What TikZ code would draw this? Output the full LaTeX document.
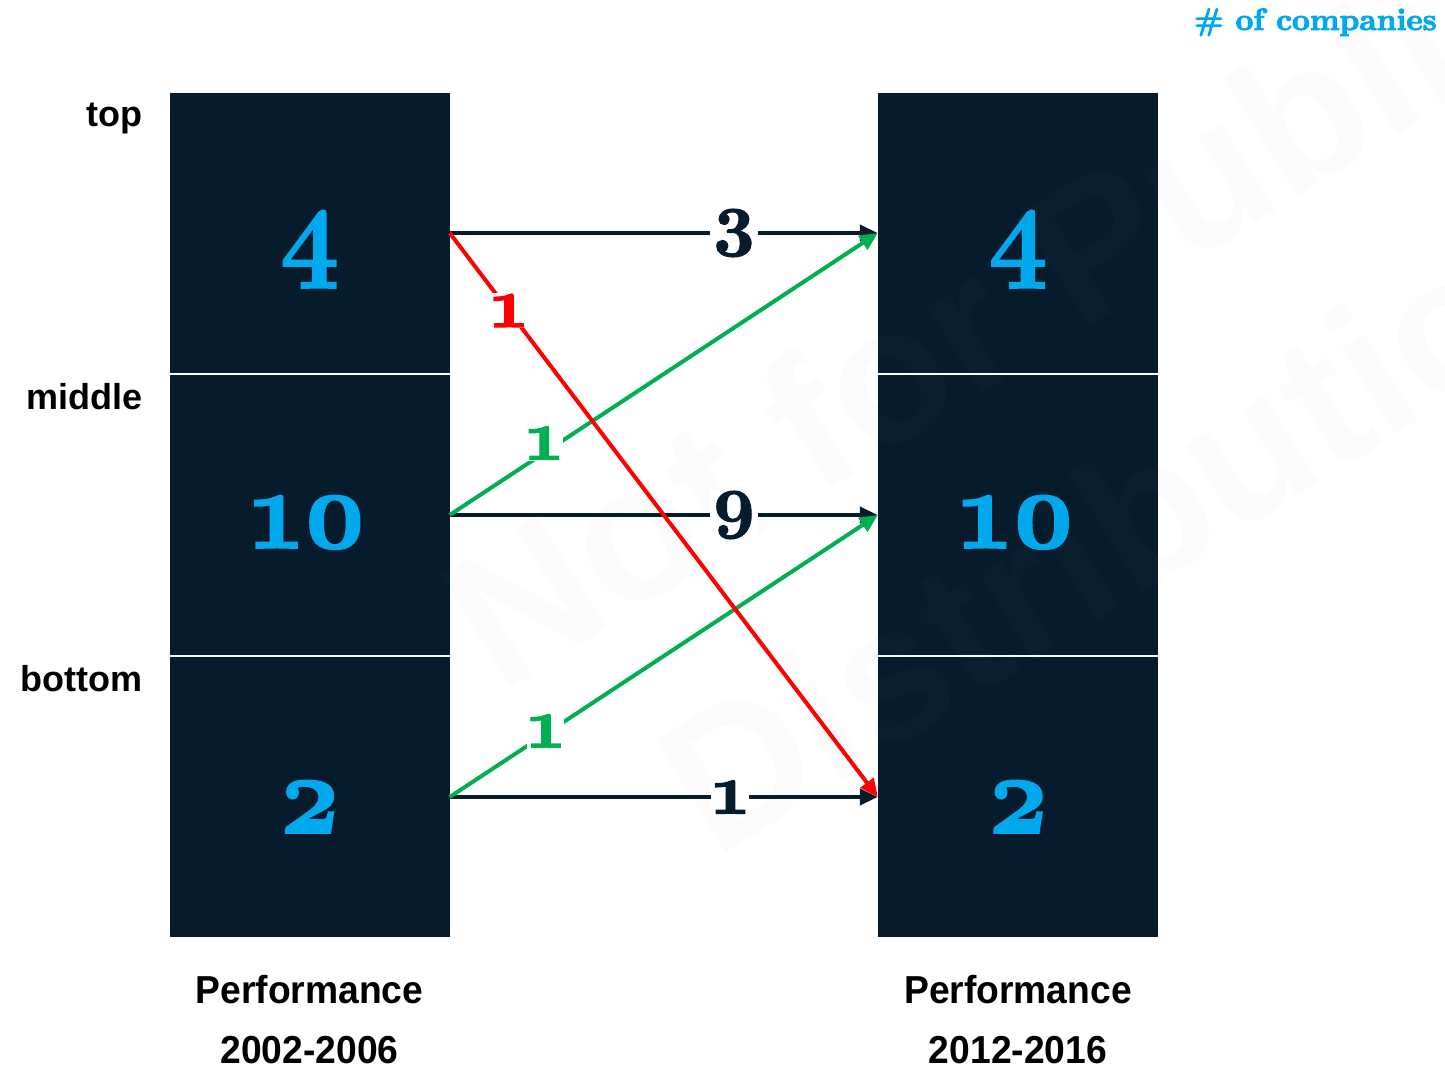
\documentclass[tikz,border=0pt]{standalone}
\usepackage{fontspec}
\setmainfont{Liberation Sans}
\newfontfamily\numfont{lmroman10-bold.otf}[Numbers=OldStyle, FakeBold=1.6]
\newfontfamily\titlefont{lmroman10-bold.otf}[Numbers=OldStyle, FakeBold=3]
\usetikzlibrary{arrows.meta}
\definecolor{navy}{HTML}{061C2D}
\definecolor{cyanblue}{HTML}{00A8EE}
\definecolor{greenline}{HTML}{00B050}
\definecolor{redline}{HTML}{FF0000}
\begin{document}
\begin{tikzpicture}[x=1pt,y=-1pt,
  cell/.style={fill=navy, draw=none, minimum width=280pt, minimum height=280pt, inner sep=0pt},
  bignum/.style={font=\numfont\fontsize{114}{114}\selectfont, text=cyanblue, anchor=base, inner sep=0pt, xscale=0.9},
  rowlab/.style={font=\bfseries\fontsize{36}{36}\selectfont, anchor=base east, inner sep=0pt},
  foot/.style={font=\bfseries\fontsize{39}{39}\selectfont, anchor=base, inner sep=0pt, xscale=0.955},
  conn/.style={line width=4pt, -{Triangle[length=18pt,width=16pt]}},
  lab/.style={font=\numfont\fontsize{72}{72}\selectfont, fill=white, inner sep=1pt},
  wm/.style={font=\bfseries\fontsize{192}{192}\selectfont, text=gray, text opacity=0.03, anchor=base west, rotate=32, inner sep=0pt}
]
\useasboundingbox (0,0) rectangle (1445,1068);
\fill[white] (0,0) rectangle (1445,1068);

% boxes
\node[cell] (L1) at (309.5,233) {};
\node[cell] (L2) at (309.5,515) {};
\node[cell] (L3) at (309.5,797) {};
\node[cell] (R1) at (1018,233) {};
\node[cell] (R2) at (1018,515) {};
\node[cell] (R3) at (1018,797) {};

% numbers in boxes
\node[bignum] (nL1) at (309.5,266) {4};
\node[bignum] (nL2) at (309.5,548) {10};
\node[bignum] (nL3) at (309.5,833) {2};
\node[bignum] (nR1) at (1018,266) {4};
\node[bignum] (nR2) at (1018,548) {10};
\node[bignum] (nR3) at (1018,833) {2};

% watermark
\node[wm] (wm1) at (500,695) {Not for Public};
\node[wm] (wm2) at (715,860) {Distribution};

% row labels
\node[rowlab] (top) at (143,126) {top};
\node[rowlab] (mid) at (143,409) {middle};
\node[rowlab] (bot) at (143,691) {bottom};

% footers
\node[foot] (fL1) at (309.5,1003) {Performance};
\node[foot] (fL2) at (309.5,1063) {2002-2006};
\node[foot] (fR1) at (1018,1003) {Performance};
\node[foot] (fR2) at (1018,1063) {2012-2016};

% title
\node[font=\titlefont\fontsize{31}{31}\selectfont, text=cyanblue, anchor=base east, inner sep=0pt] (title) at (1437,30) {\# of companies};

% connectors
\draw[conn, navy] (L1.east) -- node[lab, pos=0.664, text=navy] {3} (R1.west);
\draw[conn, navy] (L2.east) -- node[lab, pos=0.664, text=navy] {9} (R2.west);
\draw[conn, navy] (L3.east) -- node[lab, pos=0.655, text=navy] {1} (R3.west);
\draw[conn, greenline] (L2.east) -- node[lab, pos=0.22, yshift=10pt, text=greenline] {1} (R1.west);
\draw[conn, greenline] (L3.east) -- node[lab, pos=0.224, yshift=3pt, text=greenline] {1} (R2.west);
\draw[conn, redline] (L1.east) -- node[lab, pos=0.1375, text=redline] {1} (R3.west);
\end{tikzpicture}
\end{document}
